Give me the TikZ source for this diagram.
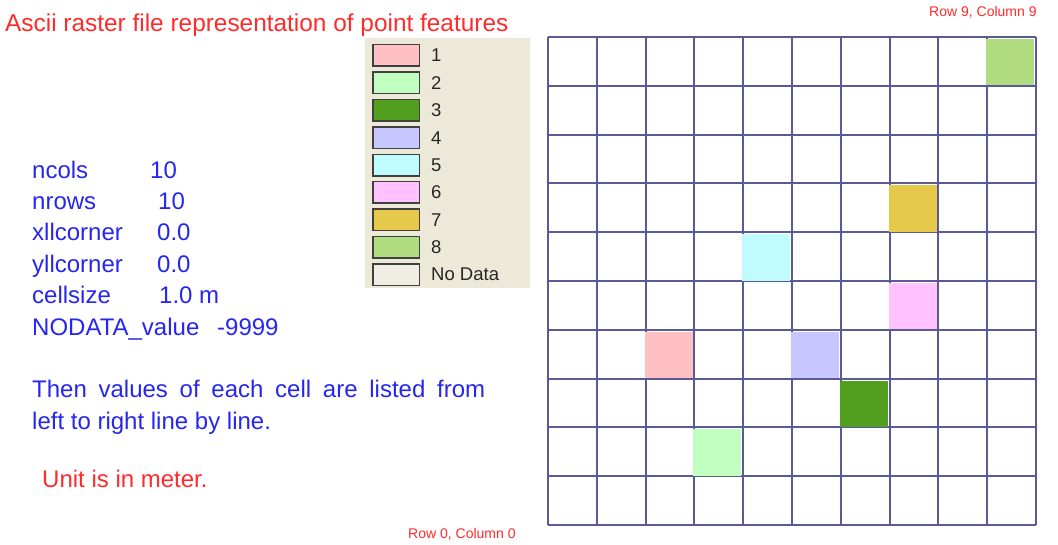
\documentclass[tikz,border=0pt]{standalone}
\usepackage{fontspec}
\setmainfont{Liberation Sans}
\usepackage{tikz}
\usetikzlibrary{positioning,calc}

\definecolor{gridline}{HTML}{5A5A98}
\definecolor{legendbg}{HTML}{ECE9D8}
\definecolor{titlered}{HTML}{FF2A2A}
\definecolor{textblue}{HTML}{2626EE}
\definecolor{val1}{HTML}{FFC0C4}
\definecolor{val2}{HTML}{C0FFC0}
\definecolor{val3}{HTML}{529E1E}
\definecolor{val4}{HTML}{C8C6FF}
\definecolor{val5}{HTML}{C0FCFF}
\definecolor{val6}{HTML}{FFC2FF}
\definecolor{val7}{HTML}{E6C84A}
\definecolor{val8}{HTML}{B2DC80}
\definecolor{nodata}{HTML}{F0EEE4}

\begin{document}
\begin{tikzpicture}[x=1pt, y=-1pt]
    \tikzstyle{title} = [anchor=base west, inner sep=0pt, text=titlered, font=\fontsize{24.4}{28}\selectfont]
    \tikzstyle{param} = [anchor=base west, inner sep=0pt, text=textblue, font=\fontsize{24}{28}\selectfont]
    \tikzstyle{corner} = [anchor=base west, inner sep=0pt, text=titlered, font=\fontsize{14}{16}\selectfont]
    \tikzstyle{swatch} = [draw=black!75, line width=1.5pt, minimum width=46.5pt, minimum height=21.5pt, inner sep=0pt]
    \tikzstyle{key} = [anchor=west, inner sep=0pt, text=black!85, font=\fontsize{18.5}{20}\selectfont]

    \useasboundingbox (0,0) rectangle (1058,545);

    % title and corner labels
    \node [title] (title) at (5,32) {Ascii raster file representation of point features};
    \node [corner] (topcorner) at (929,17) {Row 9, Column 9};
    \node [corner] (botcorner) at (408,538) {Row 0, Column 0};

    % header of the ascii file
    \node [param] (ncols) at (32,179) {ncols};
    \node [param] (nrows) at (32,210) {nrows};
    \node [param] (xll) at (32,241) {xllcorner};
    \node [param] (yll) at (32,273) {yllcorner};
    \node [param] (csize) at (32,304) {cellsize};
    \node [param] (nodata) at (32,336) {NODATA\_value};
    \node [param] (ncolsval) at (150,179) {10};
    \node [param] (nrowsval) at (158,210) {10};
    \node [param] (xllval) at (157,241) {0.0};
    \node [param] (yllval) at (157,273) {0.0};
    \node [param] (csizeval) at (159,304) {1.0 m};
    \node [param] (nodataval) at (217,336) {-9999};

    \node [param] (note1) at (32,397) {\makebox[453pt][s]{Then values of each cell are listed from}};
    \node [param] (note2) at (32,429) {left to right line by line.};
    \node [param, text=titlered] (unit) at (42,487) {Unit is in meter.};

    % legend
    \fill [legendbg] (365,38) rectangle (530,288);
    \foreach \i/\v/\t in {0/val1/1, 1/val2/2, 2/val3/3, 3/val4/4, 4/val5/5, 5/val6/6, 6/val7/7, 7/val8/8, 8/nodata/No Data} {
        \node [swatch, fill=\v] (sw\i) at (396,{55.5+27.4*\i}) {};
        \node [key, right=11pt of sw\i] (key\i) {\t};
    }

    % raster grid, 10 x 10 cells
    \foreach \k in {0,...,10} {
        \draw [gridline, line width=2pt] ({548+48.8*\k},37) -- ({548+48.8*\k},525);
        \draw [gridline, line width=2pt] (548,{37+48.8*\k}) -- (1036,{37+48.8*\k});
    }
    % point cells: column/row/value
    \foreach \c/\r/\v in {9/9/val8, 7/6/val7, 4/5/val5, 7/4/val6, 2/3/val1, 5/3/val4, 6/2/val3, 3/1/val2} {
        \fill [\v] ({548+48.8*\c-1},{37+48.8*(9-\r)+2}) rectangle +(48,46.5);
    }
\end{tikzpicture}
\end{document}
